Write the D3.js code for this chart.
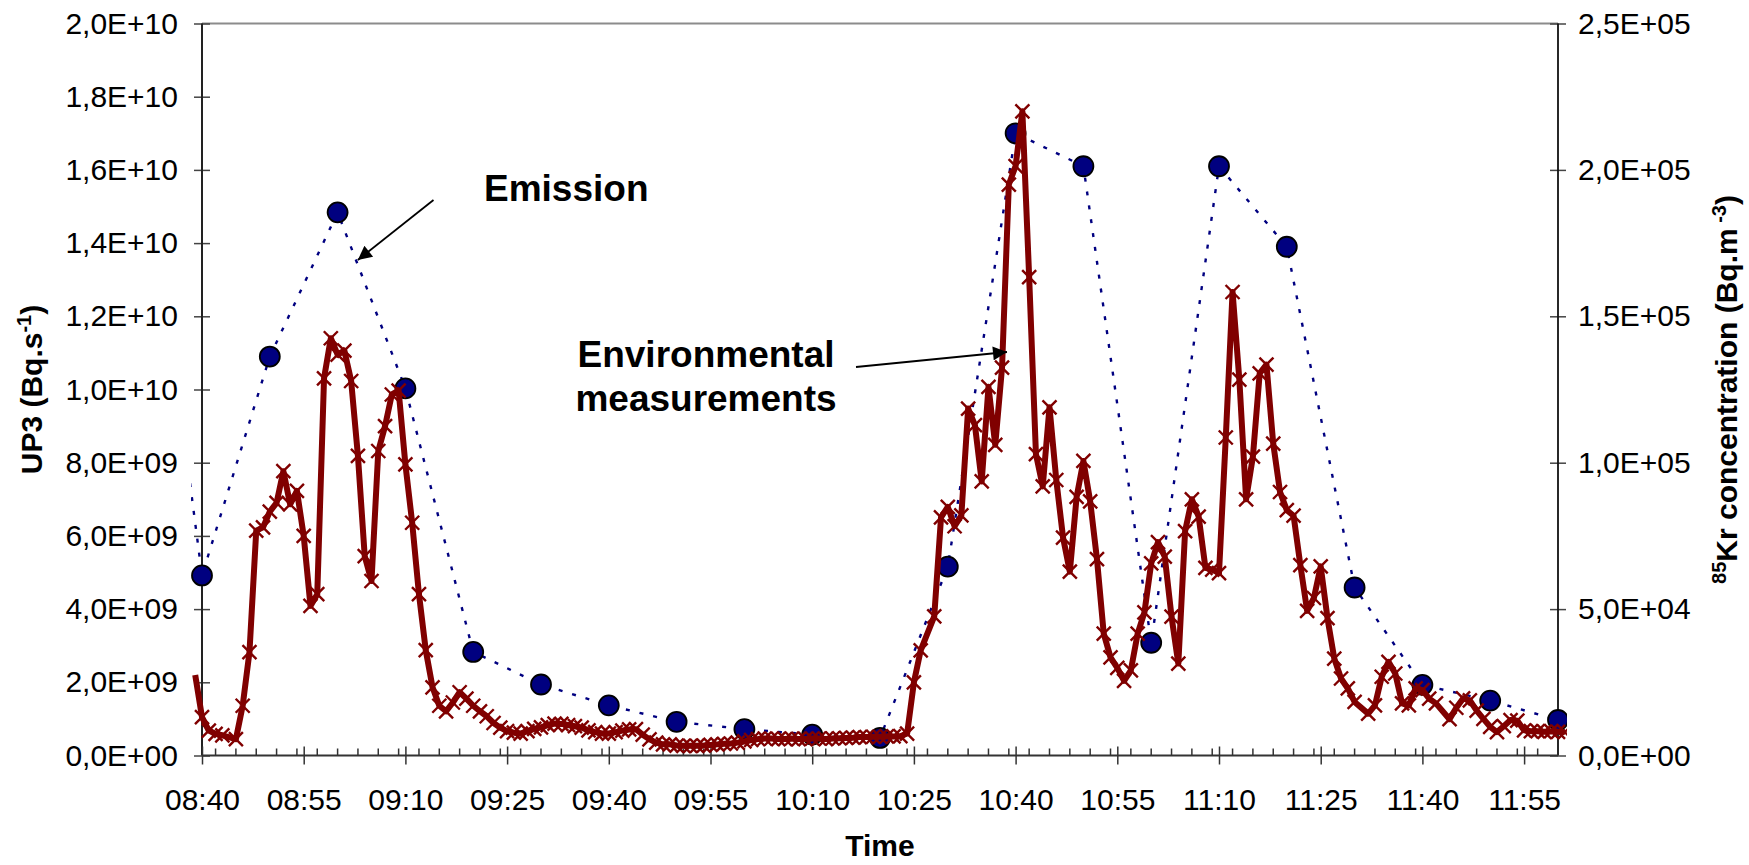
<!DOCTYPE html>
<html>
<head>
<meta charset="utf-8">
<script src="https://cdnjs.cloudflare.com/ajax/libs/d3/7.8.5/d3.min.js"></script>
<style>
body { margin: 0; background: #fff; }
text { font-family: "Liberation Sans", Arial, sans-serif; }
</style>
</head>
<body>
<div id="chart"></div>
<script>

// UP3 emission (Bq.s-1), 10 min values (08:30 lies just outside the axis)
var emissionTimes = ["08:30","08:40","08:50","09:00","09:10","09:20","09:30","09:40","09:50","10:00","10:10",
                     "10:20","10:30","10:40","10:50","11:00","11:10","11:20","11:30","11:40","11:50","12:00"];
var emissionValues = [1.92e10,4.92e9,1.09e10,1.484e10,1.003e10,2.83e9,1.94e9,1.37e9,0.92e9,0.72e9,0.57e9,
                      0.48e9,5.16e9,1.70e10,1.61e10,3.08e9,1.61e10,1.39e10,4.59e9,1.93e9,1.50e9,0.97e9];

// 85Kr environmental measurements (Bq.m-3)
var krTimes = [
 "08:39","08:40","08:41","08:42","08:43","08:45","08:46","08:47","08:48","08:49",
 "08:50","08:51","08:52","08:53","08:54","08:55","08:56","08:57","08:58","08:59",
 "09:00","09:01","09:02","09:03","09:04","09:05","09:06","09:07","09:08","09:09",
 "09:10","09:11","09:12","09:13","09:14","09:15","09:16","09:17","09:18","09:19",
 "09:20","09:21","09:22","09:23","09:24","09:25","09:26","09:27","09:28","09:29",
 "09:30","09:31","09:32","09:33","09:34","09:35","09:36","09:37","09:38","09:39",
 "09:40","09:41","09:42","09:43","09:44","09:45","09:46","09:47","09:48","09:49",
 "09:50","09:51","09:52","09:53","09:54","09:55","09:56","09:57","09:58","09:59",
 "10:00","10:01","10:02","10:03","10:04","10:05","10:06","10:07","10:08","10:09",
 "10:10","10:11","10:12","10:13","10:14","10:15","10:16","10:17","10:18","10:19",
 "10:20","10:21","10:22","10:23","10:24","10:25","10:26","10:28","10:29","10:30",
 "10:31","10:32","10:33","10:34","10:35","10:36","10:37","10:38","10:39","10:40",
 "10:41","10:42","10:43","10:44","10:45","10:46","10:47","10:48","10:49","10:50",
 "10:51","10:52","10:53","10:54","10:55","10:56","10:57","10:58","10:59","11:00",
 "11:01","11:02","11:03","11:04","11:05","11:06","11:07","11:08","11:09","11:10",
 "11:11","11:12","11:13","11:14","11:15","11:16","11:17","11:18","11:19","11:20",
 "11:21","11:22","11:23","11:24","11:25","11:26","11:27","11:28","11:29","11:30",
 "11:32","11:33","11:34","11:35","11:36","11:37","11:38","11:39","11:40","11:41",
 "11:42","11:44","11:45","11:46","11:47","11:48","11:49","11:50","11:51","11:52",
 "11:53","11:54","11:55","11:56","11:57","11:58","11:59","12:00","12:01"];
var krValues = [
 27500,13100,8500,7400,6900,5600,17000,35300,76800,77900,
 83300,86300,97100,85800,90400,75000,51100,55100,128800,142500,
 136900,138300,127900,102300,68100,59600,104000,112500,123300,124600,
 99400,79500,55100,36000,23300,17000,15100,18100,21600,19400,
 17000,15100,13400,11100,9500,8300,7800,7500,8300,9100,
 9600,10400,10900,10800,10400,10000,9500,8600,8000,7500,
 7500,8000,8500,8900,9000,7100,5500,4400,3800,3800,
 3400,3300,3300,3300,3400,3600,3800,4000,4100,4400,
 4800,5300,5600,5800,5800,5600,5600,5800,5600,5600,
 5800,5800,5600,5800,5900,6000,6100,6300,6300,6400,
 6400,6500,6500,6600,7500,25000,35900,47500,81300,84900,
 78300,82000,118500,112800,93600,125900,106100,132500,195000,201300,
 220000,163400,102900,91900,118900,94100,74400,62800,88300,100600,
 86800,67100,41600,33500,29900,25500,29100,41600,48900,65600,
 72900,67900,47400,31400,76600,87500,81600,64100,63500,62300,
 108600,158300,128400,87500,102100,130500,133500,106500,90000,83800,
 81900,65000,49400,53800,64600,46900,33100,26300,22900,18300,
 14300,17100,26900,32000,28000,17800,17100,22900,22300,19400,
 17800,12400,16300,19500,18800,15300,12500,9800,8000,10000,
 12100,11900,8600,8300,8300,8100,8300,8100,8000];

var timeTicks = ["08:40","08:55","09:10","09:25","09:40","09:55","10:10","10:25","10:40","10:55","11:10","11:25","11:40","11:55"];
var leftTicks = [0,2e9,4e9,6e9,8e9,1e10,1.2e10,1.4e10,1.6e10,1.8e10,2e10];
var rightTicks = [0,5e4,1e5,1.5e5,2e5,2.5e5];

var width = 1749, height = 865;
var margin = {top: 23.5, right: 191, bottom: 109.5, left: 202};
var pw = width - margin.left - margin.right;
var ph = height - margin.top - margin.bottom;

var parseTime = d3.timeParse("%H:%M");
var tStart = parseTime("08:40"), tEnd = parseTime("12:00");

function sci(v) {
  var parts = d3.format(".1e")(v).split("e");
  var exp = parts[1].slice(1);
  if (exp.length < 2) exp = "0" + exp;
  return parts[0].replace(".", ",") + "E" + parts[1][0] + exp;
}

var svg = d3.select("#chart")
  .append("svg")
  .attr("width", width)
  .attr("height", height)
  .style("background", "#fff");

var defs = svg.append("defs");
defs.append("clipPath").attr("id", "plotclip")
  .append("rect")
  .attr("x", -11).attr("y", -10)
  .attr("width", pw + 20).attr("height", ph + 20);
defs.append("marker")
  .attr("id", "arrow")
  .attr("viewBox", "0 0 10 10")
  .attr("refX", 10).attr("refY", 5)
  .attr("markerWidth", 18).attr("markerHeight", 14)
  .attr("markerUnits", "userSpaceOnUse")
  .attr("orient", "auto")
  .append("path")
  .attr("d", "M0,0L10,5L0,10Z")
  .attr("fill", "#000");

var g = svg.append("g").attr("transform", "translate(" + margin.left + "," + margin.top + ")");

var x = d3.scaleTime().domain([tStart, tEnd]).range([0, pw]);
var yLeft = d3.scaleLinear().domain([0, 2e10]).range([ph, 0]);
var yRight = d3.scaleLinear().domain([0, 2.5e5]).range([ph, 0]);

// top border
g.append("line")
  .attr("x1", 0).attr("x2", pw).attr("y1", 0).attr("y2", 0)
  .attr("stroke", "#8c8c8c").attr("stroke-width", 2);

// left axis
var axL = g.append("g")
  .call(d3.axisLeft(yLeft).tickValues(leftTicks).tickFormat(sci).tickSizeInner(8).tickSizeOuter(0).tickPadding(16));
axL.select(".domain").remove();
axL.selectAll(".tick line").attr("x1", 8).attr("stroke", "#444").attr("stroke-width", 1.5);
axL.attr("font-size", 30).attr("font-family", "Liberation Sans, Arial, sans-serif");
axL.selectAll("text").attr("fill", "#000");
g.append("line")
  .attr("x1", 0).attr("x2", 0).attr("y1", 0).attr("y2", ph)
  .attr("stroke", "#222").attr("stroke-width", 2);

// right axis
var axR = g.append("g")
  .attr("transform", "translate(" + pw + ",0)")
  .call(d3.axisRight(yRight).tickValues(rightTicks).tickFormat(sci).tickSizeInner(8).tickSizeOuter(0).tickPadding(12));
axR.select(".domain").remove();
axR.selectAll(".tick line").attr("x1", -8).attr("stroke", "#444").attr("stroke-width", 1.5);
axR.attr("font-size", 30).attr("font-family", "Liberation Sans, Arial, sans-serif");
axR.selectAll("text").attr("fill", "#000");
g.append("line")
  .attr("x1", pw).attr("x2", pw).attr("y1", 0).attr("y2", ph)
  .attr("stroke", "#111").attr("stroke-width", 1.8);

// bottom axis
var majors = timeTicks.map(parseTime);
var axB = g.append("g")
  .attr("transform", "translate(0," + ph + ")")
  .call(d3.axisBottom(x).tickValues(majors).tickFormat(d3.timeFormat("%H:%M")).tickSizeInner(9).tickSizeOuter(0).tickPadding(24));
axB.select(".domain").remove();
axB.selectAll(".tick line").attr("y1", -9).attr("stroke", "#333").attr("stroke-width", 1.5);
axB.attr("font-size", 30).attr("font-family", "Liberation Sans, Arial, sans-serif");
axB.selectAll("text").attr("fill", "#000");

var minors = d3.timeMinute.every(3).range(tStart, tEnd).filter(function (d) {
  return !majors.some(function (m) { return +m === +d; });
});
g.append("g").selectAll("line")
  .data(minors)
  .enter()
  .append("line")
  .attr("x1", function (d) { return x(d); })
  .attr("x2", function (d) { return x(d); })
  .attr("y1", ph).attr("y2", ph - 7)
  .attr("stroke", "#333").attr("stroke-width", 1.5);

g.append("line")
  .attr("x1", 0).attr("x2", pw).attr("y1", ph).attr("y2", ph)
  .attr("stroke", "#333").attr("stroke-width", 2);

// emission series
var emission = emissionTimes.map(function (t, i) { return {t: parseTime(t), v: emissionValues[i]}; });
var kr = krTimes.map(function (t, i) { return {t: parseTime(t), v: krValues[i]}; });

var series = g.append("g").attr("clip-path", "url(#plotclip)");

series.append("path")
  .datum(emission)
  .attr("fill", "none")
  .attr("stroke", "#000080")
  .attr("stroke-width", 2.4)
  .attr("stroke-dasharray", "4,10")
  .attr("d", d3.line().x(function (d) { return x(d.t); }).y(function (d) { return yLeft(d.v); }));

series.selectAll(".emi")
  .data(emission.filter(function (d) { return d.t >= tStart; }))
  .enter()
  .append("circle")
  .attr("class", "emi")
  .attr("cx", function (d) { return x(d.t); })
  .attr("cy", function (d) { return yLeft(d.v); })
  .attr("r", 10)
  .attr("fill", "#000080")
  .attr("stroke", "#000")
  .attr("stroke-width", 1.8);

// measurement series
series.append("path")
  .datum(kr)
  .attr("fill", "none")
  .attr("stroke", "#800000")
  .attr("stroke-width", 6)
  .attr("stroke-linejoin", "round")
  .attr("d", d3.line().x(function (d) { return x(d.t); }).y(function (d) { return yRight(d.v); }));

series.selectAll(".krm")
  .data(kr.filter(function (d) { return d.t >= tStart; }))
  .enter()
  .append("path")
  .attr("class", "krm")
  .attr("transform", function (d) { return "translate(" + x(d.t) + "," + yRight(d.v) + ")"; })
  .attr("d", "M-7,-7L7,7M-7,7L7,-7")
  .attr("stroke", "#800000")
  .attr("stroke-width", 2.4);

// axis titles
var tl = svg.append("text")
  .attr("transform", "translate(42," + (margin.top + ph / 2) + ") rotate(-90)")
  .attr("text-anchor", "middle")
  .attr("font-size", 30)
  .attr("font-weight", "bold");
tl.append("tspan").text("UP3 (Bq.s");
tl.append("tspan").attr("font-size", 20).attr("dy", -11).text("-1");
tl.append("tspan").attr("dy", 11).text(")");

var tr = svg.append("text")
  .attr("transform", "translate(1737," + (margin.top + ph / 2) + ") rotate(-90)")
  .attr("text-anchor", "middle")
  .attr("font-size", 30)
  .attr("font-weight", "bold");
tr.append("tspan").attr("font-size", 20).attr("dy", -11).text("85");
tr.append("tspan").attr("dy", 11).text("Kr concentration (Bq.m");
tr.append("tspan").attr("font-size", 20).attr("dy", -11).text(" -3");
tr.append("tspan").attr("dy", 11).text(")");

svg.append("text")
  .attr("x", margin.left + pw / 2)
  .attr("y", 856)
  .attr("text-anchor", "middle")
  .attr("font-size", 30)
  .attr("font-weight", "bold")
  .text("Time");

// annotations
svg.append("text")
  .attr("x", 484).attr("y", 201)
  .attr("font-size", 37).attr("font-weight", "bold")
  .text("Emission");
svg.append("line")
  .attr("x1", 433.5).attr("y1", 200).attr("x2", 357.8).attr("y2", 260)
  .attr("stroke", "#000").attr("stroke-width", 1.8)
  .attr("marker-end", "url(#arrow)");

var env = svg.append("text")
  .attr("text-anchor", "middle")
  .attr("font-size", 37).attr("font-weight", "bold");
env.append("tspan").attr("x", 706).attr("y", 367).text("Environmental");
env.append("tspan").attr("x", 706).attr("y", 411).text("measurements");
svg.append("line")
  .attr("x1", 856).attr("y1", 367).attr("x2", 1007).attr("y2", 352)
  .attr("stroke", "#000").attr("stroke-width", 1.8)
  .attr("marker-end", "url(#arrow)");

</script>
</body>
</html>
